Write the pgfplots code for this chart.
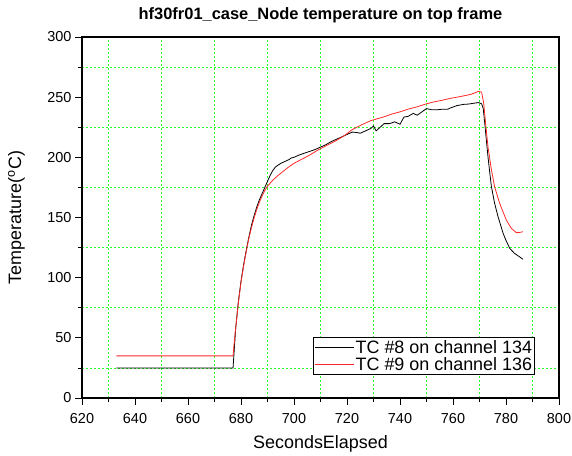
\documentclass[border=0pt]{standalone}
\usepackage{pgfplots}
\pgfplotsset{compat=1.18}
\usepackage{fontspec}
\setmainfont{Liberation Sans}

\definecolor{gridgreen}{RGB}{40,250,40}
\definecolor{tcred}{RGB}{255,40,40}

\begin{document}
\begin{tikzpicture}
\path[use as bounding box] (-82bp,-58bp) rectangle (490bp,398bp);
\begin{axis}[
  at={(0,0)}, anchor=south west,
  scale only axis,
  width=477bp, height=361bp,
  xmin=620, xmax=800, ymin=0, ymax=300,
  xtick={620,640,...,800},
  ytick={0,50,...,300},
  minor x tick num=1, minor y tick num=1,
  tick align=outside,
  xtick pos=bottom, ytick pos=left,
  major tick length=7bp, minor tick length=4bp,
  every tick/.style={black, line width=0.8bp},
  grid=minor,
  minor grid style={gridgreen, line width=0.8bp, dash pattern=on 2bp off 2bp},
  axis line style={black, line width=1.4bp},
  /pgf/number format/assume math mode=true,
  /pgf/number format/1000 sep={},
  tick label style={font=\fontsize{14.5}{17}\selectfont},
  xticklabel style={yshift=-5bp},
  title={\textbf{hf30fr01\_case\_Node temperature on top frame}},
  title style={font=\fontsize{16.5}{19}\selectfont, at={(axis description cs:0.5,1.0332)}, anchor=base},
  xlabel={SecondsElapsed},
  ylabel={Temperature(\textsuperscript{o}C)},
  label style={font=\fontsize{18}{21}\selectfont},
  xlabel style={at={(axis description cs:0.5,-0.127)}, anchor=center},
  ylabel style={at={(axis description cs:-0.1375,0.5)}, anchor=center},
  legend style={at={(axis description cs:0.9497,0.0637)}, anchor=south east,
    font=\fontsize{18}{21}\selectfont, draw=black, line width=0.8bp, fill=white,
    inner sep=1bp, row sep=0bp,
    nodes={inner sep=1.5bp}},
  legend cell align=left,
  legend image post style={line width=0.8bp},
  legend image code/.code={\draw[#1] (0bp,0bp) -- (39bp,0bp);},
]
% TC #8, channel 134
\addplot[black, line width=0.8bp] coordinates {
(633,25) (677,25) (677.6,45) (678,58) (679,80) (680,97) (681,111) (682,123)
(683,134) (684,144) (685,152) (686,159) (687,165) (688,170) (689,175) (690,180)
(691,185) (692,189) (693,192) (694,193.5) (695,195) (696,196) (697,197)
(698,198) (699,199.5) (700,200) (702,202) (704,203.5) (706,205) (708,206.5)
(710,208.5) (712,210.5) (714,213) (716,215) (718,217) (720,219) (722,221)
(724,220.5) (725,220) (727,222) (729,224) (730,226) (731,222) (732,224)
(734,228) (736,228) (738,229.5) (740,227.5) (741.5,233.5) (743,234)
(745,236.5) (746.5,235) (748.4,238) (750,240.5) (752,239.5) (754,239.5)
(756,240) (758,240) (759,241) (761.5,243) (764,244) (766,244.3) (768,245)
(769.6,245.5) (770.8,244.5) (771.4,240.7) (772,228) (772.6,214) (773.2,200.5)
(773.9,186.7) (774.5,175.6) (775.7,161.8) (777,150.7) (778.9,136.9) (780,131)
(781.4,124.4) (783.2,120.2) (785,117.5) (786.4,115.3)
};
\addlegendentry{TC \#8 on channel 134}
% TC #9, channel 136
\addplot[tcred, line width=0.8bp] coordinates {
(633,35) (677,35) (677.6,50) (678,58) (679,79) (680,96) (681,110) (682,122)
(683,133) (684,142) (685,150) (686,157) (687,163) (688,168) (689,172.5)
(690,176) (692,181) (694,185) (696,188.5) (698,192) (700,195) (703,198.5)
(706,202) (709,206) (712,209.5) (716,214) (719,218) (721.6,222.5)
(725,226.5) (729,230.5) (734,233.7) (737,236) (740.3,238) (743,240)
(746.5,242) (750,244.5) (752.7,246) (756,247.5) (759,249) (762,250.2)
(765,251.5) (767,252.5) (769.6,254.8) (770.8,254.2) (771.6,244.9)
(772.3,228.3) (773.2,208.8) (774.5,189.5) (775.7,175.6) (777.6,161.8)
(780.1,148) (782,141) (783.9,137.4) (785,137.5) (786.4,138.2)
};
\addlegendentry{TC \#9 on channel 136}
\end{axis}
\end{tikzpicture}
\end{document}
